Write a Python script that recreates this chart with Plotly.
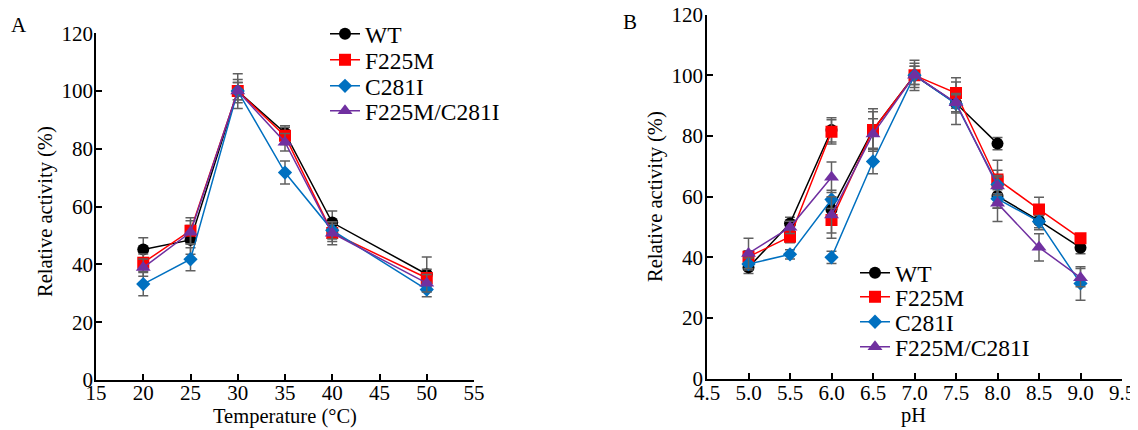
import plotly.graph_objects as go

# ---------------- data ----------------
series_names = ["WT", "F225M", "C281I", "F225M/C281I"]
colors = ["#000000", "#FF0000", "#0070C0", "#7030A0"]
symbols = ["circle", "square", "diamond", "triangle-up"]
sizes = [12, 12, 11, 13]

# Panel A: temperature
temp_x = [20, 25, 30, 35, 40, 50]
temp_wt = [45.2, 48.5, 100, 85.5, 54.5, 36.6]
temp_f225m = [40.6, 51.7, 100, 84.5, 50.9, 35.3]
temp_c281i = [33.2, 41.8, 100, 71.8, 51.8, 31.3]
temp_dbl = [38.9, 51.1, 100, 82.3, 50.8, 33.5]
temp_wt_err = [4, 5, 6, 2.5, 4, 6]
temp_f225m_err = [3, 4.5, 4, 3, 3, 3]
temp_c281i_err = [4, 4, 3, 4, 3, 2.5]
temp_dbl_err = [3, 4, 3, 3, 4, 3]

# Panel B: pH (three buffer systems; None separates the buffers)
ph_x = [5.0, 5.5, 6.0, None, 6.0, 6.5, 7.0, 7.5, 8.0, None, 8.0, 8.5, 9.0]
ph_wt = [36.7, 51.2, 82.0, None, 55.8, 82.0, 100, 90.8, 77.5, None, 60.2, 52.1, 43.2]
ph_f225m = [40.2, 46.8, 81.4, None, 52.3, 82.0, 100, 94.2, 65.0, None, 65.7, 55.8, 46.3]
ph_c281i = [37.8, 41.0, 59.1, None, 40.0, 71.6, 100, 90.6, 64.0, None, 59.3, 51.8, 31.4]
ph_dbl = [41.3, 49.9, 66.4, None, 54.0, 80.7, 100, 91.0, 63.5, None, 57.8, 43.3, 33.3]
ph_wt_err = [2, 2, 4, None, 3, 6, 5, 7, 2, None, 4, 3, 2]
ph_f225m_err = [2, 2, 4, None, 6, 7, 4, 5, 7, None, 3, 4, 1.5]
ph_c281i_err = [2, 1.5, 3, None, 2, 4, 3, 3, 3, None, 3, 2, 5.5]
ph_dbl_err = [5, 2, 5, None, 6, 5, 3, 3, 3, None, 6, 4.5, 3]

temp_y = [temp_wt, temp_f225m, temp_c281i, temp_dbl]
temp_e = [temp_wt_err, temp_f225m_err, temp_c281i_err, temp_dbl_err]
ph_y = [ph_wt, ph_f225m, ph_c281i, ph_dbl]
ph_e = [ph_wt_err, ph_f225m_err, ph_c281i_err, ph_dbl_err]

FONT = "Liberation Serif"
ERR_COLOR = "#606060"
OFF = 8                      # page body margin of the html page
W, H = 1138 - OFF, 430 - OFF


def px_x(sx):
    return (sx - OFF) / W


def px_y(sy):
    return 1 - (sy - OFF) / H


# legend item positions (screen px)
legA_x, legA_y = 325, [34, 60, 86, 111]
legB_x, legB_y = 855, [273, 297, 322, 347]

fig = go.Figure()

for i, name in enumerate(series_names):
    fig.add_trace(go.Scatter(
        x=temp_x, y=temp_y[i], name=name, mode="lines+markers",
        line=dict(color=colors[i], width=1.5),
        marker=dict(symbol=symbols[i], size=sizes[i], color=colors[i]),
        error_y=dict(type="data", array=temp_e[i], color=ERR_COLOR, thickness=1.5, width=5),
        xaxis="x", yaxis="y", legend="legend" if i == 0 else f"legend{i + 1}",
    ))

for i, name in enumerate(series_names):
    fig.add_trace(go.Scatter(
        x=ph_x, y=ph_y[i], name=name, mode="lines+markers",
        line=dict(color=colors[i], width=1.5),
        marker=dict(symbol=symbols[i], size=sizes[i], color=colors[i]),
        error_y=dict(type="data", array=ph_e[i], color=ERR_COLOR, thickness=1.5, width=5),
        connectgaps=False,
        xaxis="x2", yaxis="y2", legend=f"legend{i + 5}",
    ))

axis_common = dict(
    showline=True, linecolor="black", linewidth=1.5,
    ticks="inside", ticklen=6, tickwidth=1.5, tickcolor="black",
    showgrid=False, zeroline=False, automargin=False,
    ticklabeloverflow="allow",
    tickfont=dict(family=FONT, size=21, color="black"),
    mirror=False,
)

legend_style = dict(xanchor="left", yanchor="middle", bgcolor="rgba(0,0,0,0)",
                    borderwidth=0, font=dict(family=FONT, size=23.5, color="black"))
legends = {}
for i in range(4):
    key = "legend" if i == 0 else f"legend{i + 1}"
    legends[key] = dict(x=px_x(legA_x), y=px_y(legA_y[i]), **legend_style)
    legends[f"legend{i + 5}"] = dict(x=px_x(legB_x), y=px_y(legB_y[i]), **legend_style)


def txt(text, x, y, angle=0, size=20.5):
    return dict(text=text, x=px_x(x), y=px_y(y), xref="paper", yref="paper",
                showarrow=False, xanchor="center", yanchor="middle", textangle=angle,
                font=dict(family=FONT, size=size, color="black"))


fig.update_layout(
    width=W, height=H,
    margin=dict(l=0, r=0, t=0, b=0),
    paper_bgcolor="white", plot_bgcolor="white",
    font=dict(family=FONT, size=21, color="black"),
    showlegend=True,
    xaxis=dict(domain=[px_x(96), px_x(474)], range=[15, 55], dtick=5, tick0=15,
               anchor="y", ticklabelstandoff=-7, **axis_common),
    yaxis=dict(domain=[px_y(380), px_y(33.3)], range=[0, 120], dtick=20,
               anchor="x", ticklabelstandoff=-3, **axis_common),
    xaxis2=dict(domain=[px_x(707), px_x(1122)], range=[4.5, 9.5], dtick=0.5, tick0=4.5,
                tickformat=".1f", anchor="y2", ticklabelstandoff=-6, **axis_common),
    yaxis2=dict(domain=[px_y(378.7), px_y(14.7)], range=[0, 120], dtick=20,
                anchor="x2", ticklabelstandoff=-2, **axis_common),
    annotations=[
        txt("A", 19, 25, size=21),
        txt("B", 630, 22, size=21),
        txt("Temperature (°C)", 285, 416),
        txt("Relative activity (%)", 45, 212, angle=-90),
        txt("pH", 913, 415),
        txt("Relative activity (%)", 655, 197, angle=-90),
    ],
    **legends,
)

fig.write_html("out.html")
